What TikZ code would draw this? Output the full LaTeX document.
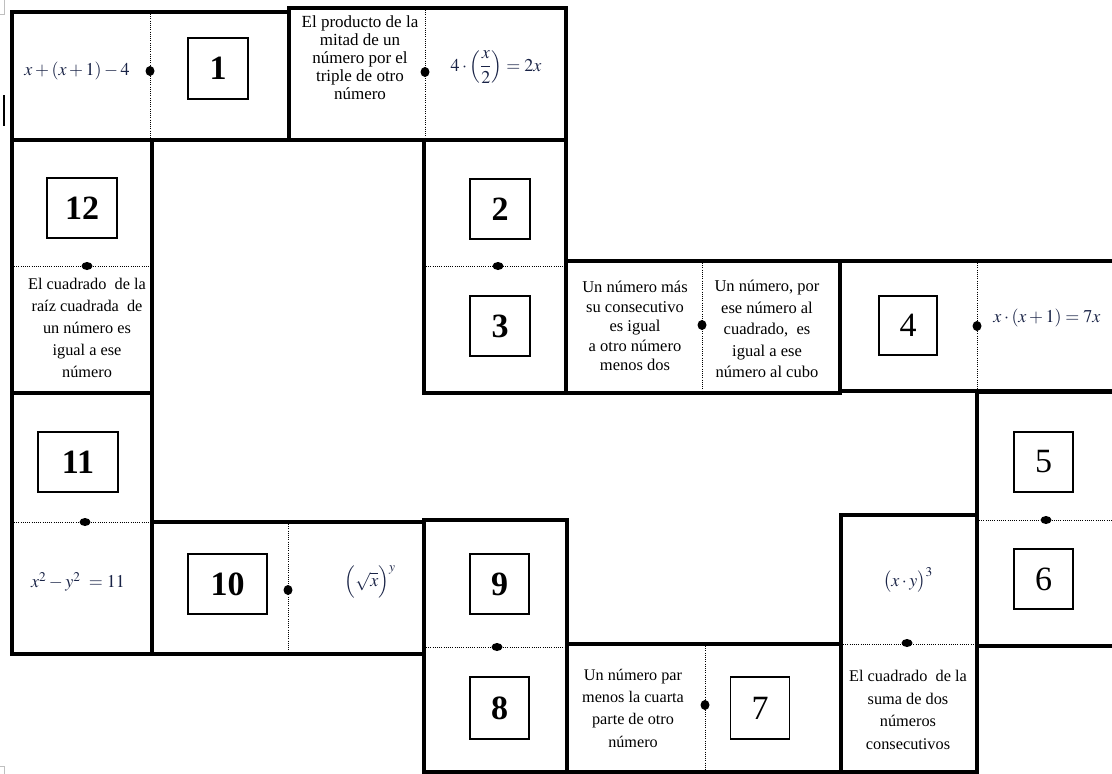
\documentclass[tikz,border=0pt]{standalone}
\usepackage{amsmath}
\usepackage{mathptmx}
\usepackage[no-math]{fontspec}
\setmainfont{Liberation Serif}
\definecolor{mathcol}{RGB}{25,35,70}
\begin{document}
\begin{tikzpicture}[x=1pt,y=-1pt,
  dom/.style={line width=4.5pt},
  divl/.style={line width=0.9pt, dash pattern=on 1pt off 1.2pt},
  numbox/.style={draw, line width=1.2pt, inner sep=0pt, font=\fontsize{34}{34}\selectfont\bfseries},
  numboxr/.style={draw, line width=1.2pt, inner sep=0pt, font=\fontsize{34}{34}\selectfont},
  txt/.style={align=center, inner sep=0pt},
  mth/.style={text=mathcol, font=\fontsize{18}{20}\selectfont, inner sep=0pt}]
\useasboundingbox (0,0) rectangle (1112,774);
\clip (0,0) rectangle (1112,774);
% page marks
\draw[line width=2.5pt] (4,95) -- (4,126);
\draw[gray!50, line width=0.6pt] (0,14) -- (4,14) -- (4,0);
\draw[gray!50, line width=0.6pt] (0,766) -- (4,766) -- (4,774);
% dominoes
\draw[dom] (12,12) rectangle (289,140);
\draw[dom] (289,8) rectangle (566,140);
\draw[dom] (12,140) rectangle (152,393);
\draw[dom] (424,140) rectangle (566,393);
\draw[dom] (566,261) rectangle (840,393);
\draw[dom] (840,261) rectangle (1117,391);
\draw[dom] (977,392) rectangle (1117,646);
\draw[dom] (841,515) rectangle (977,772);
\draw[dom] (567,644) rectangle (841,772);
\draw[dom] (424,520) rectangle (567,772);
\draw[dom] (152,522) rectangle (424,654);
\draw[dom] (12,393) rectangle (152,654);
% dividers (vertical)
\draw[divl] (150,14) -- (150,138);
\fill (150,71) ellipse [x radius=4.5pt, y radius=5pt];
\draw[divl] (425,10) -- (425,138);
\fill (425,72) ellipse [x radius=4.5pt, y radius=5pt];
\draw[divl] (702,263) -- (702,391);
\fill (702,325) ellipse [x radius=4.5pt, y radius=5pt];
\draw[divl] (977,263) -- (977,389);
\fill (977,326) ellipse [x radius=4.5pt, y radius=5pt];
\draw[divl] (705,646) -- (705,770);
\fill (705,705) ellipse [x radius=4.5pt, y radius=5pt];
\draw[divl] (288,524) -- (288,652);
\fill (288,590) ellipse [x radius=4.5pt, y radius=5pt];
% dividers (horizontal)
\draw[divl] (14,266) -- (150,266);
\fill (87,266) ellipse [x radius=5.5pt, y radius=4pt];
\draw[divl] (426,266) -- (564,266);
\fill (498,266) ellipse [x radius=5.5pt, y radius=4pt];
\draw[divl] (979,520) -- (1117,520);
\fill (1046,520) ellipse [x radius=5.5pt, y radius=4pt];
\draw[divl] (843,644) -- (975,644);
\fill (907,643) ellipse [x radius=5.5pt, y radius=4pt];
\draw[divl] (426,647) -- (565,647);
\fill (497,647) ellipse [x radius=5.5pt, y radius=4pt];
\draw[divl] (14,522) -- (150,522);
\fill (85,522) ellipse [x radius=5.5pt, y radius=4pt];
% number boxes
\node[numbox, minimum width=60pt, minimum height=61pt] (b1) at (218,68.5) {1};
\node[numbox, minimum width=60pt, minimum height=60pt] (b2) at (500,209) {2};
\node[numbox, minimum width=60pt, minimum height=60pt] (b3) at (500,326) {3};
\node[numboxr, minimum width=58pt, minimum height=59pt] (b4) at (908,325.5) {4};
\node[numboxr, minimum width=59pt, minimum height=60pt] (b5) at (1043.5,462) {5};
\node[numboxr, minimum width=59pt, minimum height=60pt] (b6) at (1043.5,579) {6};
\node[numboxr, minimum width=59pt, minimum height=62pt] (b7) at (760,708) {7};
\node[numbox, minimum width=59pt, minimum height=62pt] (b8) at (499.5,708) {8};
\node[numbox, minimum width=59pt, minimum height=60pt] (b9) at (499.5,584) {9};
\node[numbox, minimum width=79pt, minimum height=60pt] (b10) at (227.5,584) {10};
\node[numbox, minimum width=80pt, minimum height=60pt] (b11) at (78,462) {11};
\node[numbox, minimum width=70pt, minimum height=60pt] (b12) at (82,208) {12};
% math
\node[mth] (m1) at (77,71) {$x+\left(x+1\right)-4$};
\node[mth] (m2) at (496,67) {$4\cdot\left(\dfrac{x}{2}\right)=2x$};
\node[mth] (m4) at (1047,318) {$x\cdot\left(x+1\right)=7x$};
\node[mth] (mxy) at (908,580) {$\bigl(x\cdot y\bigr)^3$};
\node[mth] (m10) at (370,582) {$\Bigl(\sqrt{x}\Bigr)^{y}$};
\node[mth] (m11) at (78,582) {$x^2-y^2\ =11$};
% texts
\node[txt, font=\fontsize{17}{18}\selectfont] (t2) at (360,58) {El producto de la\\mitad de un\\número por el\\triple de otro\\número};
\node[txt, font=\fontsize{16.3}{22}\selectfont] (t12) at (87,328) {El cuadrado\ \ de la\\raíz cuadrada\ \ de\\un número es\\igual a ese\\número};
\node[txt, font=\fontsize{16.5}{19.5}\selectfont] (t3) at (635,326) {Un número más\\su consecutivo\\es igual\\a otro número\\menos dos};
\node[txt, font=\fontsize{16.5}{21.5}\selectfont] (t4) at (767,329) {Un número, por\\ese número al\\cuadrado,\ \ es\\igual a ese\\número al cubo};
\node[txt, font=\fontsize{16.3}{22.6}\selectfont] (t6) at (908,710) {El cuadrado\ \ de la\\suma de dos\\números\\consecutivos};
\node[txt, font=\fontsize{16.2}{22.3}\selectfont] (t7) at (633,708) {Un número par\\menos la cuarta\\parte de otro\\número};
\end{tikzpicture}
\end{document}
